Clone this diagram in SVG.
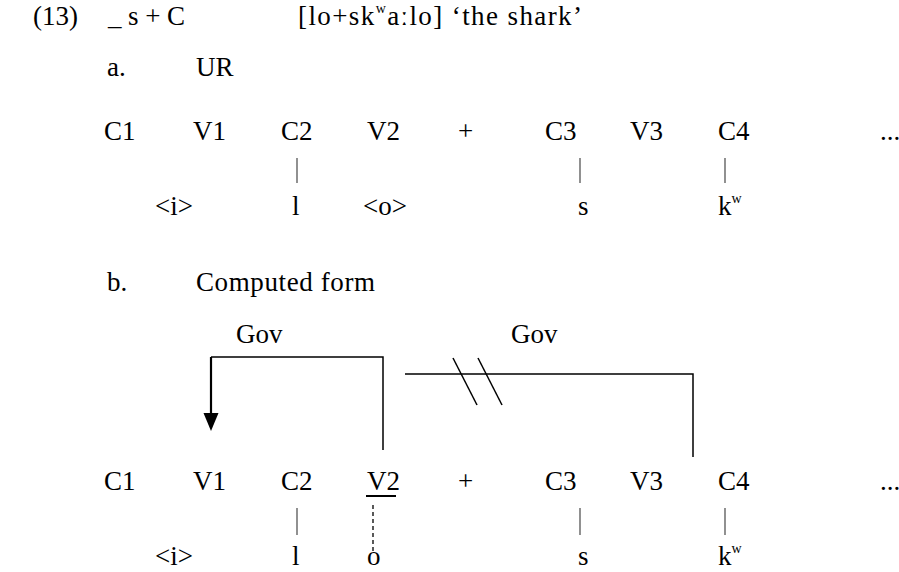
<svg xmlns="http://www.w3.org/2000/svg" width="899" height="572" viewBox="0 0 899 572">
<style>
text{font-family:"Liberation Serif","DejaVu Serif",serif;font-size:27px;fill:#000}
.sup{font-size:14px}
.ln{stroke:#000;stroke-width:1.5;fill:none}
.ass{stroke:#555;stroke-width:1.3;fill:none}
</style>
<g id="header">
<text x="33" y="25">(13)</text>
<text x="108" y="25" textLength="77" lengthAdjust="spacing">_s+C</text>
<text x="298" y="25" textLength="284" lengthAdjust="spacing">[lo+sk<tspan class="sup" dy="-12">w</tspan><tspan dy="12">aːlo] ‘the shark’</tspan></text>
<text x="107" y="76">a.</text>
<text x="196" y="76">UR</text>
<text x="107" y="291">b.</text>
<text x="196" y="291" textLength="179" lengthAdjust="spacing">Computed form</text>
</g>
<g id="ur-skeleton">
<text x="104" y="140">C1</text>
<text x="193" y="140">V1</text>
<text x="281" y="140">C2</text>
<text x="367" y="140">V2</text>
<text x="458" y="140">+</text>
<text x="545" y="140">C3</text>
<text x="630" y="140">V3</text>
<text x="718" y="140">C4</text>
<text x="880" y="140">...</text>
</g>
<g id="ur-melody">
<text x="155" y="215">&lt;i&gt;</text>
<text x="292" y="215">l</text>
<text x="363" y="215">&lt;o&gt;</text>
<text x="578" y="215">s</text>
<text x="718" y="215">k<tspan class="sup" dy="-12">w</tspan></text>
</g>
<g id="cf-skeleton">
<text x="104" y="490">C1</text>
<text x="193" y="490">V1</text>
<text x="281" y="490">C2</text>
<text x="367" y="490">V2</text>
<text x="458" y="490">+</text>
<text x="545" y="490">C3</text>
<text x="630" y="490">V3</text>
<text x="718" y="490">C4</text>
<text x="880" y="490">...</text>
</g>
<g id="cf-melody">
<text x="155" y="565">&lt;i&gt;</text>
<text x="292" y="565">l</text>
<text x="367" y="565">o</text>
<text x="578" y="565">s</text>
<text x="718" y="565">k<tspan class="sup" dy="-12">w</tspan></text>
</g>
<g id="gov-labels">
<text x="236" y="343">Gov</text>
<text x="511" y="343">Gov</text>
</g>
<g id="connectors">
<line class="ass" x1="297" y1="158" x2="297" y2="183"/>
<line class="ass" x1="580" y1="158" x2="580" y2="183"/>
<line class="ass" x1="725" y1="158" x2="725" y2="183"/>
<line class="ass" x1="297" y1="508" x2="297" y2="535"/>
<line class="ass" x1="580" y1="508" x2="580" y2="535"/>
<line class="ass" x1="725" y1="508" x2="725" y2="535"/>
<line x1="373" y1="505" x2="373" y2="552" stroke="#000" stroke-width="1.3" stroke-dasharray="4,3"/>
<line x1="366" y1="496" x2="396" y2="496" stroke="#000" stroke-width="2"/>
<path class="ln" d="M383,450V357H211"/>
<path d="M211,357V416" stroke="#000" stroke-width="2.2" fill="none"/>
<path d="M203.5,413L218.5,413L211,431z" fill="#000"/>
<path class="ln" d="M405,374H693V457"/>
<line class="ln" stroke-width="1" x1="453" y1="358" x2="477" y2="405"/>
<line class="ln" stroke-width="1" x1="478" y1="358" x2="502" y2="405"/>
</g>
</svg>
